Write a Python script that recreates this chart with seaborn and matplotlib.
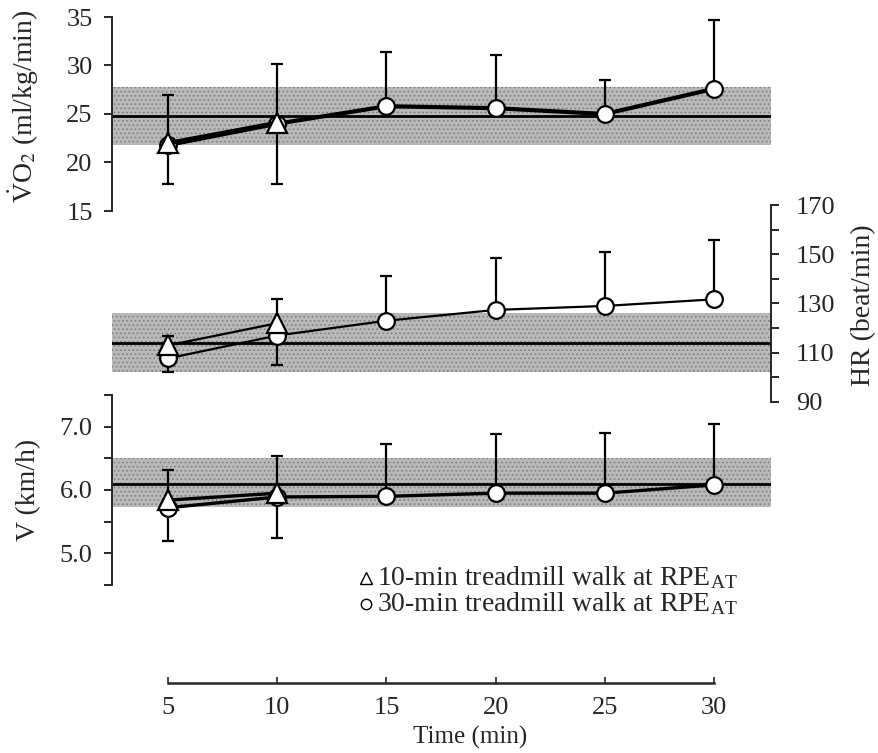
import numpy as np
import pandas as pd
import matplotlib
matplotlib.use("Agg")
import matplotlib.pyplot as plt
from matplotlib.lines import Line2D
import seaborn as sns

# ---------------- data ----------------
time_tri = [5, 10]
time_circ = [5, 10, 15, 20, 25, 30]

# VO2 (ml/kg/min)
vo2_tri = [22.0, 24.1]
vo2_tri_sd = [5.0, 6.1]
vo2_circ = [21.8, 24.0, 25.8, 25.6, 25.0, 27.6]
vo2_circ_sd = [4.0, 6.2, 5.6, 5.5, 3.5, 7.1]
vo2_band = (21.8, 27.8)
vo2_mean = 24.8

# HR (beat/min)
hr_tri = [113.0, 122.0]
hr_tri_sd = [3.6, 10.0]
hr_circ = [107.7, 117.0, 123.0, 127.4, 129.0, 131.7]
hr_circ_sd = [5.7, 12.0, 18.0, 21.0, 22.0, 24.2]
hr_band = (102.0, 126.3)
hr_mean = 113.8

# V (km/h)
v_tri = [5.84, 5.95]
v_tri_sd = [0.48, 0.58]
v_circ = [5.72, 5.89, 5.90, 5.95, 5.95, 6.08]
v_circ_sd = [0.52, 0.65, 0.83, 0.94, 0.95, 0.97]
v_band = (5.73, 6.51)
v_mean = 6.10

x_ticks = [5, 10, 15, 20, 25, 30]
legend_labels = [r'10-min treadmill walk at RPE$_{\mathregular{AT}}$',
                 r'30-min treadmill walk at RPE$_{\mathregular{AT}}$']

# ---------------- style ----------------
sns.set_style("ticks")
plt.rcParams['font.family'] = ['Liberation Serif', 'DejaVu Serif']
plt.rcParams['mathtext.fontset'] = 'stix'
plt.rcParams['hatch.linewidth'] = 0.7
plt.rcParams['hatch.color'] = '#7f7f7f'

fig = plt.figure(figsize=(8.79, 7.53), dpi=100)
W, H = 879.0, 753.0
left, right = 112 / W, 771 / W
xlim = (5 - 56 / 21.84, 5 + 603 / 21.84)

ax1 = fig.add_axes([left, 1 - 211 / H, right - left, 194 / H])
ax2 = fig.add_axes([left, 1 - 402 / H, right - left, 197 / H])
ax3 = fig.add_axes([left, 1 - 585 / H, right - left, 190 / H])

band_col = '#b9b9b9'


def draw_panel(ax, tri, tri_sd, circ, circ_sd, band, mean, lw, tri_up, circ_up):
    ax.axhspan(band[0], band[1], facecolor=band_col, edgecolor='#7f7f7f',
               hatch='....', linewidth=0, zorder=0)
    ax.axhline(mean, color='black', lw=2.0, zorder=1)
    # error bars (one-sided)
    for t, m, s, up in zip(time_circ, circ, circ_sd, circ_up):
        yerr = [[0], [s]] if up else [[s], [0]]
        ax.errorbar([t], [m], yerr=yerr, fmt='none', ecolor='black',
                    elinewidth=1.6, capsize=4, capthick=1.6, zorder=2)
    for t, m, s, up in zip(time_tri, tri, tri_sd, tri_up):
        yerr = [[0], [s]] if up else [[s], [0]]
        ax.errorbar([t], [m], yerr=yerr, fmt='none', ecolor='black',
                    elinewidth=1.6, capsize=4, capthick=1.6, zorder=2)
    df_c = pd.DataFrame({'t': time_circ, 'y': circ})
    df_t = pd.DataFrame({'t': time_tri, 'y': tri})
    sns.lineplot(data=df_c, x='t', y='y', ax=ax, color='black', lw=lw,
                 marker='o', markersize=12, markerfacecolor='white',
                 markeredgecolor='black', markeredgewidth=1.6, zorder=3)
    sns.lineplot(data=df_t, x='t', y='y', ax=ax, color='black', lw=lw,
                 marker='^', markersize=14, markerfacecolor='white',
                 markeredgecolor='black', markeredgewidth=1.6, zorder=4)
    ax.set_xlim(*xlim)
    ax.set_xlabel('')
    ax.set_ylabel('')
    ax.set_facecolor('none')
    for sp in ['top', 'bottom', 'right', 'left']:
        ax.spines[sp].set_visible(False)
    ax.set_xticks([])


draw_panel(ax1, vo2_tri, vo2_tri_sd, vo2_circ, vo2_circ_sd, vo2_band, vo2_mean, 3.0,
           [True, True], [False, False, True, True, True, True])
draw_panel(ax2, hr_tri, hr_tri_sd, hr_circ, hr_circ_sd, hr_band, hr_mean, 1.6,
           [True, True], [False, False, True, True, True, True])
draw_panel(ax3, v_tri, v_tri_sd, v_circ, v_circ_sd, v_band, v_mean, 2.4,
           [True, True], [False, False, True, True, True, True])

tick_font = 19
label_font = 20

# top: VO2 axis on left
ax1.set_ylim(15, 35)
ax1.spines['left'].set_visible(True)
ax1.spines['left'].set_linewidth(1.4)
ax1.set_yticks([15, 20, 25, 30, 35])
ax1.tick_params(axis='y', direction='out', length=6, width=1.4, labelsize=tick_font, pad=8)
ax1.set_ylabel(r'$\dot{\mathregular{V}}$O$_2$ (ml/kg/min)', fontsize=label_font)
ax1.yaxis.set_label_coords((41 - 112) / 659, 0.54)

# middle: HR axis on right
ax2.set_ylim(90, 170)
ax2.spines['right'].set_visible(True)
ax2.spines['right'].set_linewidth(1.4)
ax2.yaxis.tick_right()
ax2.yaxis.set_label_position('right')
ax2.set_yticks([90, 110, 130, 150, 170])
ax2.set_yticks([100, 120, 140, 160], minor=True)
ax2.tick_params(axis='y', which='both', direction='out', length=6, width=1.4,
                labelsize=tick_font, pad=12)
ax2.set_ylabel('HR (beat/min)', fontsize=label_font, rotation=90)
ax2.yaxis.set_label_coords((851 - 112) / 659, 0.49)

# bottom: speed axis on left
ax3.set_ylim(4.5, 7.5)
ax3.spines['left'].set_visible(True)
ax3.spines['left'].set_linewidth(1.4)
ax3.set_yticks([5.0, 6.0, 7.0])
ax3.set_yticklabels(['5.0', '6.0', '7.0'])
ax3.set_yticks([4.5, 5.5, 6.5, 7.5], minor=True)
ax3.tick_params(axis='y', which='both', direction='out', length=6, width=1.4,
                labelsize=tick_font, pad=8)
ax3.set_ylabel('V (km/h)', fontsize=label_font)
ax3.yaxis.set_label_coords((41 - 112) / 659, 0.5)

# shared time axis, detached below the panels
ax3.spines['bottom'].set_visible(True)
ax3.spines['bottom'].set_linewidth(1.8)
ax3.spines['bottom'].set_position(('outward', 98 * 72 / 100))
ax3.spines['bottom'].set_bounds(5, 30)
ax3.set_xticks(x_ticks)
ax3.set_xticklabels([str(t) for t in x_ticks])
ax3.tick_params(axis='x', direction='in', length=4, width=1.2,
                labelsize=tick_font, pad=10)
fig.text(470 / W, 1 - 737 / H, 'Time (min)', fontsize=18, ha='center', va='center')

# legend drawn by hand: marker + text per row
legend_markers = ['^', 'o']
legend_sizes = [8.5, 7.5]
legend_rows_y = [578, 604]
for mk, ms, lab, yy in zip(legend_markers, legend_sizes, legend_labels, legend_rows_y):
    fig.add_artist(Line2D([366 / W], [1 - yy / H], marker=mk, ls='none', markersize=ms,
                          markerfacecolor='white', markeredgecolor='black',
                          markeredgewidth=1.0, transform=fig.transFigure))
    fig.text(377 / W, 1 - yy / H, lab, fontsize=20, ha='left', va='center')

plt.savefig('out.png', dpi=100)
